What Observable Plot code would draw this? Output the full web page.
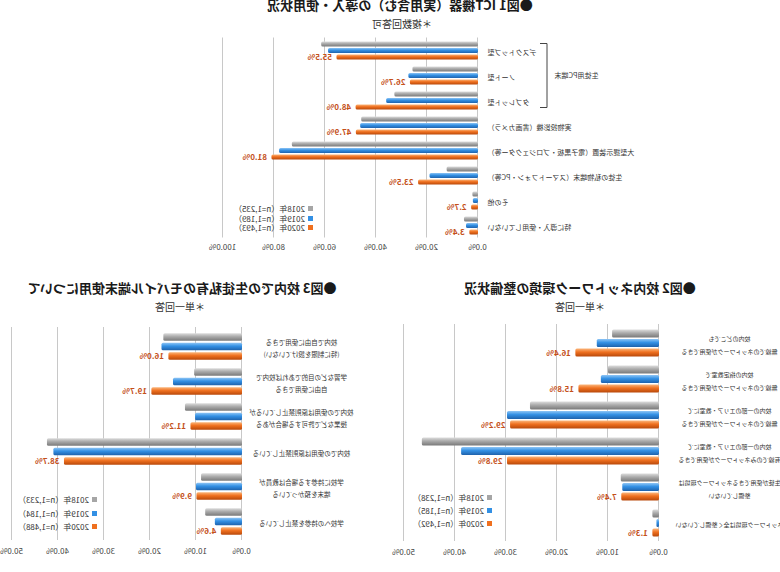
<!DOCTYPE html>
<html><head><meta charset="utf-8">
<script src="https://cdn.jsdelivr.net/npm/d3@7"></script>
<script src="https://cdn.jsdelivr.net/npm/@observablehq/plot@0.6"></script>
<style>
body{margin:0;background:#fff;font-family:"Noto Sans CJK JP","Noto Sans",sans-serif;}
#page{position:relative;width:780px;height:572px;overflow:hidden;transform:scaleX(-1);background:#fff}
.t{position:absolute;white-space:nowrap;transform:translateX(-50%);font-weight:bold;color:#1a1a1a;font-size:13px;line-height:14px}
.s{position:absolute;white-space:nowrap;transform:translateX(-50%);color:#333;font-size:10px;line-height:11px}
.plot{position:absolute}
.lg{position:absolute;font-size:8px;line-height:9.5px;color:#333;white-space:nowrap}
.lg .sq{display:inline-block;width:5px;height:5px;margin-right:3px;vertical-align:1px}
</style></head>
<body>
<svg width="0" height="0" style="position:absolute">
<defs>
<linearGradient id="g0" x1="0" y1="0" x2="0" y2="1"><stop offset="0" stop-color="#dcdcdc"/><stop offset="0.45" stop-color="#a9a9a9"/><stop offset="1" stop-color="#7a7a7a"/></linearGradient>
<linearGradient id="g1" x1="0" y1="0" x2="0" y2="1"><stop offset="0" stop-color="#8cc4f5"/><stop offset="0.45" stop-color="#3390e4"/><stop offset="1" stop-color="#1f63ad"/></linearGradient>
<linearGradient id="g2" x1="0" y1="0" x2="0" y2="1"><stop offset="0" stop-color="#fbb57a"/><stop offset="0.45" stop-color="#ef701f"/><stop offset="1" stop-color="#b9490b"/></linearGradient>
</defs></svg>
<div id="page"></div>
<script>
const years = ["2018年","2019年","2020年"];
const yearColors = ["#a6a6a6","#3390e4","#ef701f"];

// Figure 1
const fig1Title = "●図1 ICT機器（実用含む）の導入・使用状況";
const fig1Sub = "＊複数回答可";
const fig1Cats = ["デスクトップ型","ノート型","タブレット型","実物投影機（書画カメラ）","大型提示装置（電子黒板・プロジェクター等）","生徒の私物端末（スマートフォン・PC等）","その他","特に導入・使用していない"];
const fig1Group = "生徒用PC端末";
const fig1V2018 = [61.5,25.7,32.8,45.8,73.0,12.3,2.2,5.5];
const fig1V2019 = [58.8,27.3,36.0,46.2,78.0,19.0,2.0,4.7];
const fig1V2020 = [55.5,26.7,48.0,47.9,81.0,23.5,2.7,3.4];
const fig1N = ["n=1,235","n=1,189","n=1,493"];
const fig1Ticks = [0,20,40,60,80,100];

// Figure 2
const fig2Title = "●図2 校内ネットワーク環境の整備状況";
const fig2Sub = "＊単一回答";
const fig2Cats = ["校内のどこでも\n無線でのネットワークが使用できる","校内の指定教室で\n無線でのネットワークが使用できる","校内の一部のエリア・教室にて\n無線でのネットワークが使用できる","校内の一部のエリア・教室にて\n有線でのみネットワークが使用できる","生徒が使用できるネットワーク環境は\n整備していない","ネットワーク環境は全く整備していない"];
const fig2V2018 = [9.2,10.0,25.3,46.5,7.5,1.3];
const fig2V2019 = [12.2,11.4,29.8,38.8,7.2,0.5];
const fig2V2020 = [16.4,15.8,29.2,29.8,7.4,1.3];
const fig2N = ["n=1,238","n=1,185","n=1,492"];
const fig2Ticks = [0,10,20,30,40,50];

// Figure 3
const fig3Title = "●図3 校内での生徒私有のモバイル端末使用について";
const fig3Sub = "＊単一回答";
const fig3Cats = ["校内で自由に使用できる\n(特に制限を設けていない)","学習などの目的であれば校内で\n自由に使用できる","校内での使用は原則禁止しているが\n授業などで許可する場合がある","校内での使用は原則禁止している","学校に持参する場合は教員が\n端末を預かっている","学校への持参を禁止している"];
const fig3V2018 = [17.1,10.4,12.4,42.4,8.9,8.0];
const fig3V2019 = [17.5,15.0,10.2,41.0,10.0,5.9];
const fig3V2020 = [16.0,19.7,11.2,38.7,9.9,4.6];
const fig3N = ["n=1,233","n=1,184","n=1,488"];
const fig3Ticks = [0,10,20,30,40,50];

const page = document.getElementById("page");
const fmt = d => d.toFixed(1) + "%";

function addDiv(cls, text, left, top){
  const d = document.createElement("div");
  d.className = cls; d.textContent = text;
  d.style.left = left + "px"; d.style.top = top + "px";
  page.appendChild(d); return d;
}
function addLegend(ns, left, top, gap){
  ns.forEach((n,i)=>{
    const d = document.createElement("div");
    d.className = "lg"; d.style.left = left+"px"; d.style.top = (top + i*gap)+"px";
    d.innerHTML = `<span class="sq" style="background:${yearColors[i]}"></span>${years[i]}（${n}）`;
    page.appendChild(d);
  });
}

function makeChart(o){
  const series = [o.v2018, o.v2019, o.v2020];
  const rows = o.cats.flatMap((c,i)=>years.map((y,j)=>({cat:c, year:j, value:series[j][i]})));
  const marks = [
    Plot.gridX(o.ticks, {stroke:"#c8c8c8", strokeOpacity:1, strokeWidth:1}),
    ...years.map((y,j)=>Plot.barX(rows.filter(r=>r.year===j), {
      x:"value", y:"cat", fill:`url(#g${j})`,
      insetTop:o.inset, insetBottom:o.inset, dy:o.offsets[j], rx:1.5
    })),
    Plot.text(rows.filter(r=>r.year===2), {
      x:"value", y:"cat", text:d=>fmt(d.value), dx:4, dy:o.offsets[2],
      textAnchor:"start", fill:"#c4501a", fontWeight:"bold", fontSize:o.valueFont
    }),
    Plot.text(o.cats, {
      x:()=>0, y:d=>d, text:d=>d, dx:o.labelDx, textAnchor:o.labelAnchor,
      fill:"#333", fontSize:o.labelFont, lineHeight:o.lineHeight
    }),
    Plot.axisX(o.ticks, {tickSize:0, tickPadding:o.tickPadding, tickFormat:fmt, fontSize:8, fill:"#444", label:null})
  ];
  if (o.extra) marks.push(...o.extra);
  const chart = Plot.plot({
    width:o.width, height:o.height,
    marginLeft:o.ml, marginRight:o.mr, marginTop:o.mt, marginBottom:o.mb,
    style:{fontFamily:'"Noto Sans CJK JP",sans-serif', background:"transparent", overflow:"visible"},
    x:{domain:[o.ticks[0], o.ticks[o.ticks.length-1]], axis:null},
    y:{domain:o.cats, axis:null, padding:0},
    marks
  });
  chart.classList.add("plot");
  chart.style.left = o.left + "px"; chart.style.top = o.top + "px";
  page.appendChild(chart);
  return chart;
}

// Figure 1
addDiv("t", fig1Title, 380, -2);
addDiv("s", fig1Sub, 378, 18);
const c1 = makeChart({
  cats:fig1Cats, v2018:fig1V2018, v2019:fig1V2019, v2020:fig1V2020, ticks:fig1Ticks,
  width:780, height:260, left:0, top:0, ml:302, mr:223, mt:37.5, mb:22.5,
  inset:10, offsets:[-6.5,0,6.5], labelDx:-10, labelAnchor:"end", labelFont:7, lineHeight:1.7,
  valueFont:8, tickPadding:6,
  extra:[Plot.text([fig1Group], {x:()=>0, y:()=>fig1Cats[1], text:d=>d, dx:-77, textAnchor:"end", fill:"#333", fontSize:7})]
});
{
  const xs = c1.scale("x"), ys = c1.scale("y");
  const x0 = xs.apply(0) - 69;
  const top = ys.apply(fig1Cats[0]) + 5.5;
  const bot = ys.apply(fig1Cats[2]) + ys.bandwidth - 5.5;
  d3.select(c1).append("path")
    .attr("d", `M${x0+7},${top}H${x0}V${bot}H${x0+7}`)
    .attr("fill","none").attr("stroke","#444").attr("stroke-width",1);
}
addLegend(fig1N, 467, 204, 9.5);

// Figure 2
addDiv("t", fig2Title, 200, 281);
addDiv("s", fig2Sub, 200, 301);
makeChart({
  cats:fig2Cats, v2018:fig2V2018, v2019:fig2V2019, v2020:fig2V2020, ticks:fig2Ticks,
  width:390, height:254, left:0, top:318, ml:121, mr:14, mt:6, mb:31,
  inset:14.1, offsets:[-9.5,0,9.5], labelDx:-71, labelAnchor:"middle", labelFont:6, lineHeight:2.05,
  valueFont:8, tickPadding:8
});
addLegend(fig2N, 288, 493, 13);

// Figure 3
addDiv("t", fig3Title, 598, 281);
addDiv("s", fig3Sub, 600, 301);
makeChart({
  cats:fig3Cats, v2018:fig3V2018, v2019:fig3V2019, v2020:fig3V2020, ticks:fig3Ticks,
  width:390, height:254, left:390, top:318, ml:148, mr:12, mt:9, mb:32,
  inset:13.8, offsets:[-9.5,0,9.5], labelDx:-60, labelAnchor:"middle", labelFont:6.5, lineHeight:1.9,
  valueFont:8, tickPadding:8
});
addLegend(fig3N, 683, 495, 13.5);
</script>
</body></html>
